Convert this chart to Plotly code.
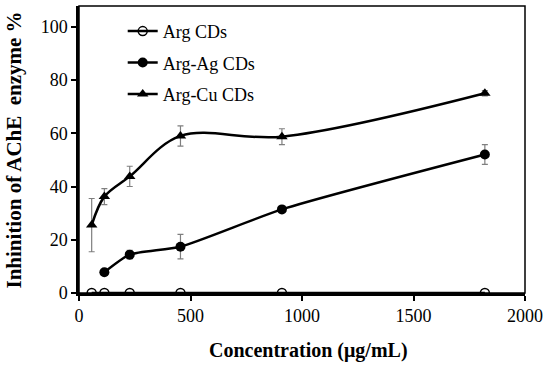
import plotly.graph_objects as go

conc = [56.875, 113.75, 227.5, 455, 910, 1820]
arg_cds = [0, 0, 0, 0, 0, 0]
arg_ag_x = [113.75, 227.5, 455, 910, 1820]
arg_ag = [7.8, 14.4, 17.4, 31.4, 52.0]
arg_ag_err = [0.6, 1.6, 4.6, 1.0, 3.7]
arg_cu = [25.5, 36.2, 43.8, 59.0, 58.7, 75.0]
arg_cu_err = [10.0, 3.0, 3.8, 3.8, 3.0, 1.0]
x_ticks = [0, 500, 1000, 1500, 2000]
y_ticks = [0, 20, 40, 60, 80, 100]

font_family = "Liberation Serif, Times New Roman, serif"
err_style = dict(type="data", thickness=1.2, width=3, color="#7f7f7f")

fig = go.Figure()
fig.add_trace(go.Scatter(
    x=conc, y=arg_cds, name="Arg CDs", mode="lines+markers", legendgroup="a",
    line=dict(color="black", width=2.5),
    marker=dict(symbol="circle-open", size=9, color="black", line=dict(width=1.5)),
))
fig.add_trace(go.Scatter(
    x=arg_ag_x, y=arg_ag, name="Arg-Ag CDs", mode="lines+markers", legendgroup="b",
    line=dict(color="black", width=2.5, shape="spline", smoothing=0.6),
    marker=dict(symbol="circle", size=10, color="black"),
    error_y=dict(array=arg_ag_err, **err_style),
))
fig.add_trace(go.Scatter(
    x=conc, y=arg_cu, name="Arg-Cu CDs", mode="lines+markers", legendgroup="c",
    line=dict(color="black", width=2.5, shape="spline", smoothing=1.0),
    marker=dict(symbol="triangle-up", size=10, color="black"),
    error_y=dict(array=arg_cu_err, **err_style),
))

fig.update_layout(
    width=550, height=365,
    margin=dict(l=79, r=25, t=6, b=72, autoexpand=False),
    paper_bgcolor="white", plot_bgcolor="white",
    font=dict(family=font_family, size=18, color="black"),
    legend=dict(x=0.098, y=0.976, xanchor="left", yanchor="top",
                bgcolor="rgba(0,0,0,0)", tracegroupgap=5,
                font=dict(family=font_family, size=18)),
    shapes=[dict(type="rect", xref="paper", yref="paper", x0=0, y0=0, x1=1, y1=1,
                 line=dict(color="black", width=1.5))],
    annotations=[
        dict(text="<b>Concentration (μg/mL)</b>", xref="paper", yref="paper",
             x=0.5, y=0, xanchor="center", yanchor="middle", yshift=-57, xshift=6,
             showarrow=False, font=dict(family=font_family, size=20)),
        dict(text="<b>Inhinition of AChE  enzyme %</b>", xref="paper", yref="paper",
             x=0, y=0.5, xanchor="center", yanchor="middle", xshift=-66, yshift=-1,
             textangle=-90, showarrow=False, font=dict(family=font_family, size=21)),
    ],
)
fig.update_xaxes(
    range=[0, 2000], tickvals=x_ticks, automargin=False,
    showgrid=False, zeroline=False,
    showline=True, linecolor="black", linewidth=2.5,
    ticks="outside", ticklen=5, tickwidth=1.5, tickcolor="black",
    tickfont=dict(family=font_family, size=18),
)
fig.update_yaxes(
    range=[0, 107.8], tickvals=y_ticks, automargin=False,
    showgrid=False, zeroline=False,
    showline=True, linecolor="black", linewidth=2.5,
    ticks="outside", ticklen=5, tickwidth=1.5, tickcolor="black",
    tickfont=dict(family=font_family, size=18),
)

fig.write_html("out.html", config={"displayModeBar": False},
               post_script="document.body.style.margin='0';document.body.style.padding='0';")
